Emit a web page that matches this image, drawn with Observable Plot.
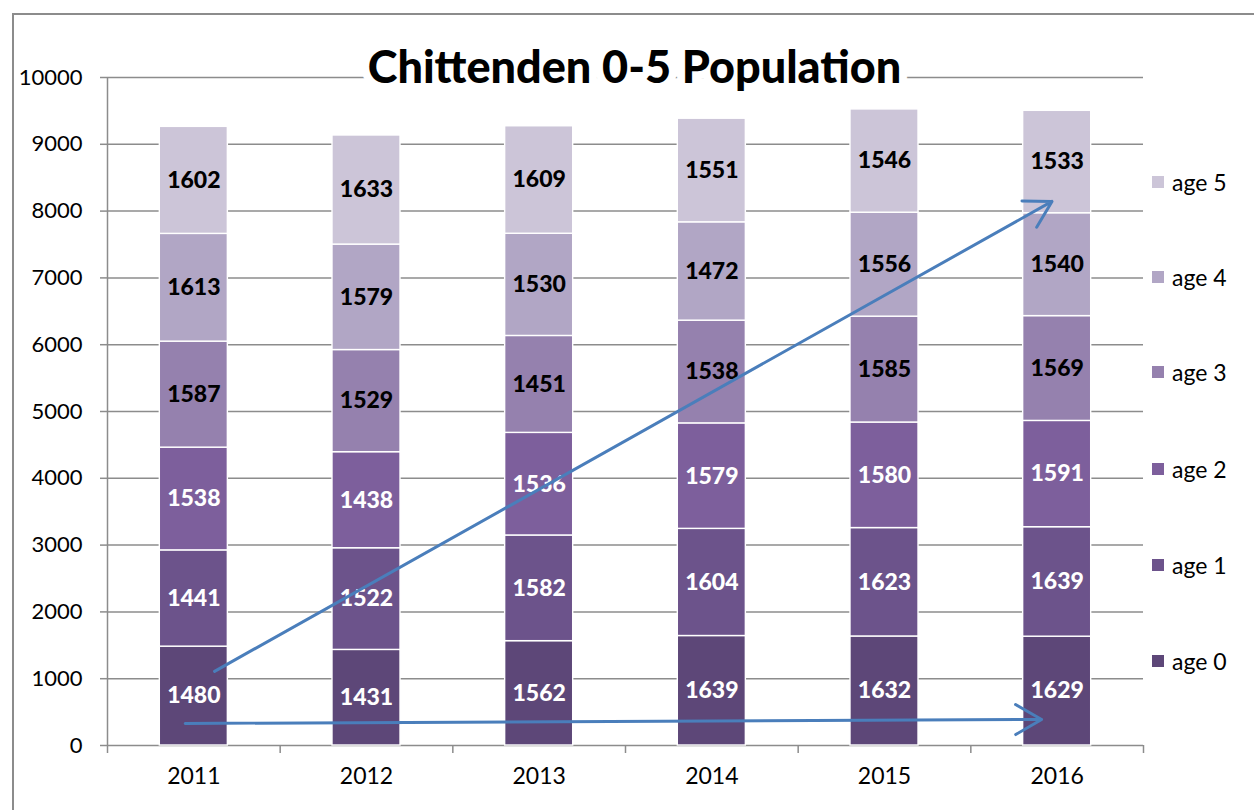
<!DOCTYPE html>
<html>
<head>
<meta charset="utf-8">
<script src="https://cdn.jsdelivr.net/npm/d3@7"></script>
<script src="https://cdn.jsdelivr.net/npm/@observablehq/plot@0.6"></script>
<style>
  html, body { margin: 0; padding: 0; background: #fff; }
  #wrap { position: relative; width: 1254px; height: 810px; overflow: hidden; font-family: Lato, "Open Sans", sans-serif; }
  #frame { position: absolute; left: 12px; top: 13px; right: -10px; bottom: -10px; border-left: 2px solid #8c8c8c; border-top: 2px solid #8c8c8c; pointer-events: none; }
  #legend { position: absolute; left: 1152px; top: 0; }
  .item { position: absolute; left: 0; display: flex; align-items: center; white-space: nowrap; font-size: 23px; color: #000; transform: translateY(-50%); }
  .sw { width: 12px; height: 12px; margin-right: 8px; }
</style>
</head>
<body>
<div id="wrap">
  <div id="chart"></div>
  <div id="frame"></div>
  <div id="legend"></div>
</div>
<script>
const title = "Chittenden 0-5 Population";
const years = [2011, 2012, 2013, 2014, 2015, 2016];
const ages = ["age 0", "age 1", "age 2", "age 3", "age 4", "age 5"];
const age0 = [1480, 1431, 1562, 1639, 1632, 1629];
const age1 = [1441, 1522, 1582, 1604, 1623, 1639];
const age2 = [1538, 1438, 1536, 1579, 1580, 1591];
const age3 = [1587, 1529, 1451, 1538, 1585, 1569];
const age4 = [1613, 1579, 1530, 1472, 1556, 1540];
const age5 = [1602, 1633, 1609, 1551, 1546, 1533];
const series = [age0, age1, age2, age3, age4, age5];
const colors = ["#5d4778", "#6c538b", "#7d5f9c", "#9581ae", "#b1a6c5", "#ccc5d8"];
const labelColors = ["#fff", "#fff", "#fff", "#000", "#000", "#000"];
const yTicks = [0, 1000, 2000, 3000, 4000, 5000, 6000, 7000, 8000, 9000, 10000];
// trend arrows (start year, start value, end year, end value)
const arrowX1 = [2011.12, 2010.95];
const arrowY1 = [1110, 330];
const arrowX2 = [2015.97, 2015.91];
const arrowY2 = [8145, 390];

// build stacked table
const rows = [];
years.forEach((yr, i) => {
  let base = 0;
  series.forEach((s, k) => {
    rows.push({year: yr, age: ages[k], value: s[i], y1: base, y2: base + s[i], k});
    base += s[i];
  });
});
const arrows = arrowX1.map((x, i) => ({x1: x, y1: arrowY1[i], x2: arrowX2[i], y2: arrowY2[i]}));
const halfBar = 0.197;
const boundaries = d3.range(years.length + 1).map(i => years[0] - 0.5 + i);

const chart = Plot.plot({
  width: 1254,
  height: 810,
  marginLeft: 107,
  marginRight: 111,
  marginTop: 77,
  marginBottom: 65,
  style: {fontFamily: "Lato, 'Open Sans', sans-serif", background: "transparent"},
  x: {type: "linear", domain: [years[0] - 0.5, years[years.length - 1] + 0.5]},
  y: {domain: [0, 10000]},
  color: {domain: ages, range: colors},
  marks: [
    Plot.gridY(yTicks, {stroke: "#8c8c8c", strokeOpacity: 1, strokeWidth: 1.5}),
    Plot.ruleX([years[0] - 0.5], {y1: 0, y2: 10000, stroke: "#8c8c8c", strokeWidth: 1.5}),
    Plot.axisY({ticks: yTicks, tickSize: 7, tickPadding: 18, tickFormat: d => String(d), fontSize: 22, stroke: "#8c8c8c", strokeWidth: 1.5, label: null, color: "#000"}),
    Plot.axisX({ticks: boundaries, tickSize: 8, tickFormat: () => "", stroke: "#8c8c8c", strokeWidth: 1.5, label: null}),
    Plot.axisX({ticks: years, tickSize: 0, tickPadding: 22, tickFormat: d => String(d), fontSize: 23, label: null, color: "#000"}),
    Plot.rectY(rows, {x1: d => d.year - halfBar, x2: d => d.year + halfBar, y1: "y1", y2: "y2", fill: "age", stroke: "#fff", strokeWidth: 1.4}),
    Plot.text(rows, {x: "year", y: d => (d.y1 + d.y2) / 2, text: d => String(d.value), fill: d => labelColors[d.k], fontSize: 23, fontWeight: 900}),
    Plot.arrow(arrows, {x1: "x1", y1: "y1", x2: "x2", y2: "y2", stroke: "#4a7ebb", strokeWidth: 3, headLength: 15, bend: 0}),
    Plot.text([title], {frameAnchor: "top", dx: 9, dy: -9, lineAnchor: "middle", text: d => d, fontSize: 45, fontWeight: 900, fill: "#000", stroke: "#fff", strokeWidth: 16})
  ]
});
document.getElementById("chart").appendChild(chart);

// legend
const legendY = [661, 565, 469, 372, 277, 182];
const legend = document.getElementById("legend");
ages.forEach((a, k) => {
  const it = document.createElement("div");
  it.className = "item";
  it.style.top = legendY[k] + "px";
  const sw = document.createElement("div");
  sw.className = "sw";
  sw.style.background = colors[k];
  const t = document.createElement("span");
  t.textContent = a;
  it.appendChild(sw);
  it.appendChild(t);
  legend.appendChild(it);
});
</script>
</body>
</html>
